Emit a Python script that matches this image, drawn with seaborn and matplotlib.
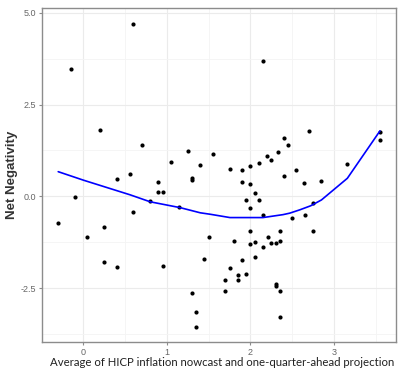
import numpy as np
import pandas as pd
import seaborn as sns
import matplotlib.pyplot as plt
from matplotlib.ticker import MultipleLocator

# points
avg_hicp = [-0.30, -0.15, -0.10, 0.05, 0.20, 0.25, 0.25, 0.40, 0.40, 0.555,
            0.60, 0.60, 0.70, 0.80, 0.90, 0.90, 0.95, 0.95, 1.05, 1.15,
            1.25, 1.30, 1.30, 1.30, 1.35, 1.35, 1.40, 1.45, 1.50, 1.55,
            1.70, 1.70, 1.75, 1.755, 1.80, 1.85, 1.85, 1.90, 1.90, 1.90,
            1.95, 1.95, 2.00, 2.00, 2.00, 2.00, 2.00, 2.05, 2.05, 2.05,
            2.10, 2.10, 2.15, 2.15, 2.15, 2.20, 2.205, 2.245, 2.245, 2.305,
            2.305, 2.305, 2.33, 2.35, 2.35, 2.35, 2.35, 2.40, 2.40, 2.45,
            2.50, 2.55, 2.64, 2.65, 2.70, 2.75, 2.75, 2.85, 3.15, 3.55, 3.55]
net_neg = [-0.74, 3.47, -0.01, -1.11, 1.80, -0.83, -1.80, 0.47, -1.93, 0.62,
           4.69, -0.43, 1.39, -0.14, 0.39, 0.12, 0.13, -1.91, 0.93, -0.30,
           1.22, 0.51, 0.43, -2.63, -3.15, -3.56, 0.86, -1.70, -1.10, 1.15,
           -2.27, -2.57, 0.74, -1.96, -1.22, -2.14, -2.27, 0.72, 0.40, -1.74,
           -0.09, -2.11, 0.83, 0.33, -0.33, -0.95, -1.30, 0.10, -1.25, -1.65,
           0.91, -0.09, 3.68, -0.51, -1.39, 1.10, -1.12, 0.99, -1.28, -1.28,
           -2.39, -2.44, 1.20, -0.95, -1.22, -2.59, -3.28, 1.58, 0.55, 1.41,
           -0.60, 0.72, 0.37, -0.51, 1.78, -0.19, -0.95, 0.41, 0.87, 1.76, 1.53]

# smooth curve
smooth_x = [-0.30, 0.0, 0.56, 0.80, 1.16, 1.40, 1.52, 1.755, 2.15, 2.39,
            2.47, 2.59, 2.72, 2.85, 3.16, 3.55]
smooth_y = [0.67, 0.44, 0.04, -0.15, -0.31, -0.45, -0.49, -0.58, -0.58, -0.50,
            -0.46, -0.37, -0.26, -0.10, 0.49, 1.78]

pts = pd.DataFrame({'x': avg_hicp, 'y': net_neg})
fit = pd.DataFrame({'x': smooth_x, 'y': smooth_y})

sns.set_style('white')
plt.rcParams['font.family'] = ['Liberation Sans', 'DejaVu Sans']

fig = plt.figure(figsize=(4.02, 3.72), dpi=100)
ax = fig.add_axes([0.1045, 0.0806, 0.8795, 0.898])

sns.scatterplot(data=pts, x='x', y='y', color='black', s=9, linewidth=0, ax=ax, zorder=3)
sns.lineplot(data=fit, x='x', y='y', color='#0000FF', linewidth=1.2, sort=False,
             estimator=None, ax=ax, zorder=4)

ax.set_xlim(-0.494, 3.737)
ax.set_ylim(-3.97, 5.13)
ax.xaxis.set_minor_locator(MultipleLocator(0.5))
ax.yaxis.set_minor_locator(MultipleLocator(1.25))
ax.set_yticks([-2.5, 0, 2.5, 5.0])
ax.set_yticklabels(['-2.5', '0.0', '2.5', '5.0'])
ax.set_xticks([0, 1, 2, 3])
ax.set_xticklabels(['0', '1', '2', '3'])

ax.grid(which='major', color='#EBEBEB', linewidth=0.8)
ax.grid(which='minor', color='#F4F4F4', linewidth=0.6)
ax.set_axisbelow(True)

for sp in ax.spines.values():
    sp.set_color('#8C8C8C')
    sp.set_linewidth(1.0)

ax.tick_params(which='major', direction='out', length=2.5, width=0.8, color='#8C8C8C',
               labelsize=6.5, labelcolor='#666666', pad=1.5, bottom=True, left=True)
ax.tick_params(which='minor', length=0)

ax.set_xlabel('')
ax.set_ylabel('Net Negativity', fontsize=9.5, fontweight='bold', color='#333333', labelpad=2)

fig.text(0.552, 1 - 362 / 372, 'Average of HICP inflation nowcast and one-quarter-ahead projection',
         ha='center', va='center', fontsize=8.2, family=['Lato', 'DejaVu Sans'], color='#222222')

fig.savefig('out.png', dpi=100)
